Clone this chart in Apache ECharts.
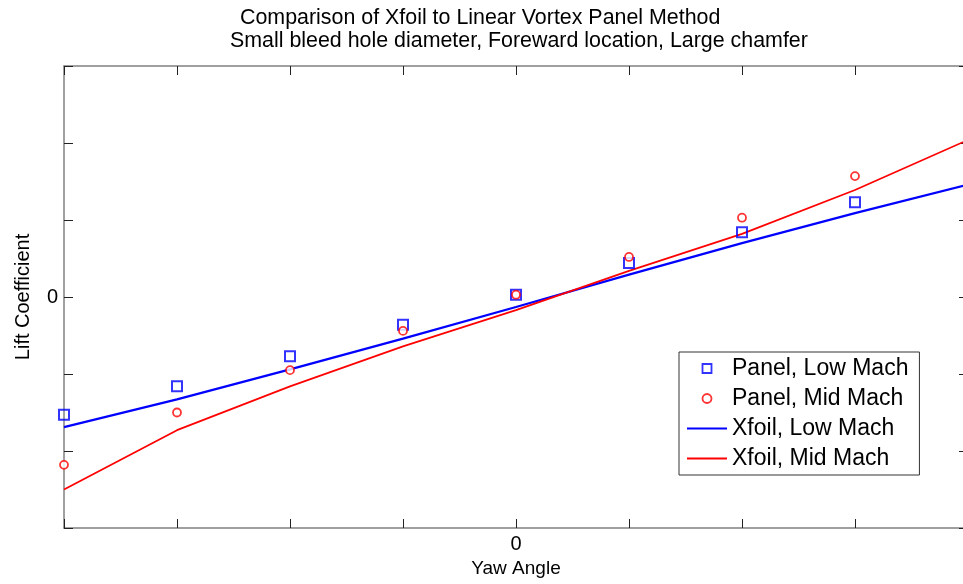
<!DOCTYPE html>
<html>
<head>
<meta charset="utf-8">
<script src="https://cdn.jsdelivr.net/npm/echarts@6/dist/echarts.min.js"></script>
<style>
  html, body { margin: 0; padding: 0; background: #fff; }
  #chart { width: 963px; height: 584px; }
</style>
</head>
<body>
<div id="chart"></div>
<script>
// Yaw angle stations where the panel method was evaluated
const panelAngles = [-4, -3, -2, -1, 0, 1, 2, 3];
// Panel method lift coefficients
const panelLowMach = [-1.53, -1.16, -0.77, -0.36, 0.03, 0.44, 0.84, 1.23];
const panelMidMach = [-2.18, -1.50, -0.95, -0.44, 0.03, 0.52, 1.03, 1.57];

// Xfoil sweep
const xfoilAngles = [-4, -3, -2, -1, 0, 1, 2, 3, 4];
const xfoilLowMach = [-1.69, -1.33, -0.94, -0.54, -0.13, 0.29, 0.70, 1.09, 1.46];
const xfoilMidMach = [-2.50, -1.73, -1.16, -0.64, -0.17, 0.34, 0.82, 1.39, 2.04];

const seriesNames = ['Panel, Low Mach', 'Panel, Mid Mach', 'Xfoil, Low Mach', 'Xfoil, Mid Mach'];
const titleLines = [
  'Comparison of Xfoil to Linear Vortex Panel Method',
  'Small bleed hole diameter, Foreward location, Large chamfer'
];

const BLUE = '#0000ff';
const RED = '#ff0000';
const FONT = '"Liberation Sans", Arial, Helvetica, sans-serif';

const pairs = (xs, ys) => xs.map((x, i) => [x, ys[i]]);
const zeroOnly = v => (v === 0 ? '0' : '');

const frameLine = { show: true, onZero: false, lineStyle: { color: '#808080', width: 1.5 } };
const innerTick = { show: true, inside: true, length: 9, lineStyle: { color: '#222', width: 1 } };

const chart = echarts.init(document.getElementById('chart'), null, { renderer: 'canvas' });

chart.setOption({
  animation: false,
  backgroundColor: '#ffffff',
  title: [
    {
      text: titleLines[0], left: 240, top: 8, padding: 0,
      textStyle: { fontFamily: FONT, fontSize: 21.4, fontWeight: 'normal', color: '#000' }
    },
    {
      text: titleLines[1], left: 230, top: 31, padding: 0,
      textStyle: { fontFamily: FONT, fontSize: 21.4, fontWeight: 'normal', color: '#000' }
    }
  ],
  // the frame runs a few pixels past the right edge of the canvas
  grid: { left: 64, right: -5, top: 66, bottom: 56, containLabel: false, outerBoundsMode: 'none' },
  legend: {
    orient: 'vertical',
    left: 679, top: 352,
    padding: [5, 11, 5, 8],
    itemWidth: 40, itemHeight: 9, itemGap: 7,
    symbolKeepAspect: true,
    backgroundColor: '#fff',
    borderColor: '#333', borderWidth: 1,
    selectedMode: false,
    textStyle: { fontFamily: FONT, fontSize: 23, color: '#000' },
    data: [
      { name: seriesNames[0], icon: 'path://M0,0H10V10H0Z',
        itemStyle: { color: 'rgba(0,0,0,0)', borderColor: BLUE, borderWidth: 1.8 } },
      { name: seriesNames[1], icon: 'circle',
        itemStyle: { color: 'rgba(0,0,0,0)', borderColor: RED, borderWidth: 1.8 } },
      { name: seriesNames[2], icon: 'path://M0,0H40V2.2H0Z',
        itemStyle: { color: BLUE, borderWidth: 0 } },
      { name: seriesNames[3], icon: 'path://M0,0H40V1.8H0Z',
        itemStyle: { color: RED, borderWidth: 0 } }
    ]
  },
  xAxis: [
    {
      type: 'value', position: 'bottom', min: -4, max: 4, interval: 1,
      name: 'Yaw Angle', nameLocation: 'middle', nameGap: 25,
      nameTextStyle: { fontFamily: FONT, fontSize: 19, color: '#000' },
      axisLine: frameLine, axisTick: innerTick,
      axisLabel: { formatter: zeroOnly, margin: 6, fontFamily: FONT, fontSize: 20, color: '#000' },
      splitLine: { show: false }
    },
    {
      type: 'value', position: 'top', min: -4, max: 4, interval: 1,
      axisLine: frameLine, axisTick: innerTick,
      axisLabel: { show: false }, splitLine: { show: false }
    }
  ],
  yAxis: [
    {
      type: 'value', position: 'left', min: -3, max: 3, interval: 1,
      name: 'Lift Coefficient', nameLocation: 'middle', nameGap: 31, nameRotate: 90,
      nameTextStyle: { fontFamily: FONT, fontSize: 20, color: '#000' },
      axisLine: frameLine, axisTick: innerTick,
      axisLabel: { formatter: zeroOnly, margin: 6, fontFamily: FONT, fontSize: 20, color: '#000' },
      splitLine: { show: false }
    },
    {
      type: 'value', position: 'right', min: -3, max: 3, interval: 1,
      axisLine: frameLine, axisTick: innerTick,
      axisLabel: { show: false }, splitLine: { show: false }
    }
  ],
  series: [
    {
      name: seriesNames[0], type: 'scatter', xAxisIndex: 0, yAxisIndex: 0,
      data: pairs(panelAngles, panelLowMach),
      symbol: 'rect', symbolSize: 10, z: 4,
      itemStyle: { color: 'rgba(0,0,0,0)', borderColor: BLUE, borderWidth: 2 }
    },
    {
      name: seriesNames[1], type: 'scatter', xAxisIndex: 0, yAxisIndex: 0,
      data: pairs(panelAngles, panelMidMach),
      symbol: 'circle', symbolSize: 8, z: 5,
      itemStyle: { color: '#ffffff', borderColor: RED, borderWidth: 1.8 }
    },
    {
      name: seriesNames[2], type: 'line', xAxisIndex: 0, yAxisIndex: 0,
      data: pairs(xfoilAngles, xfoilLowMach),
      showSymbol: false, symbol: 'none', z: 3,
      lineStyle: { color: BLUE, width: 2.2 }, itemStyle: { color: BLUE }
    },
    {
      name: seriesNames[3], type: 'line', xAxisIndex: 0, yAxisIndex: 0,
      data: pairs(xfoilAngles, xfoilMidMach),
      showSymbol: false, symbol: 'none', z: 3,
      lineStyle: { color: RED, width: 1.8 }, itemStyle: { color: RED }
    }
  ]
});
</script>
</body>
</html>
